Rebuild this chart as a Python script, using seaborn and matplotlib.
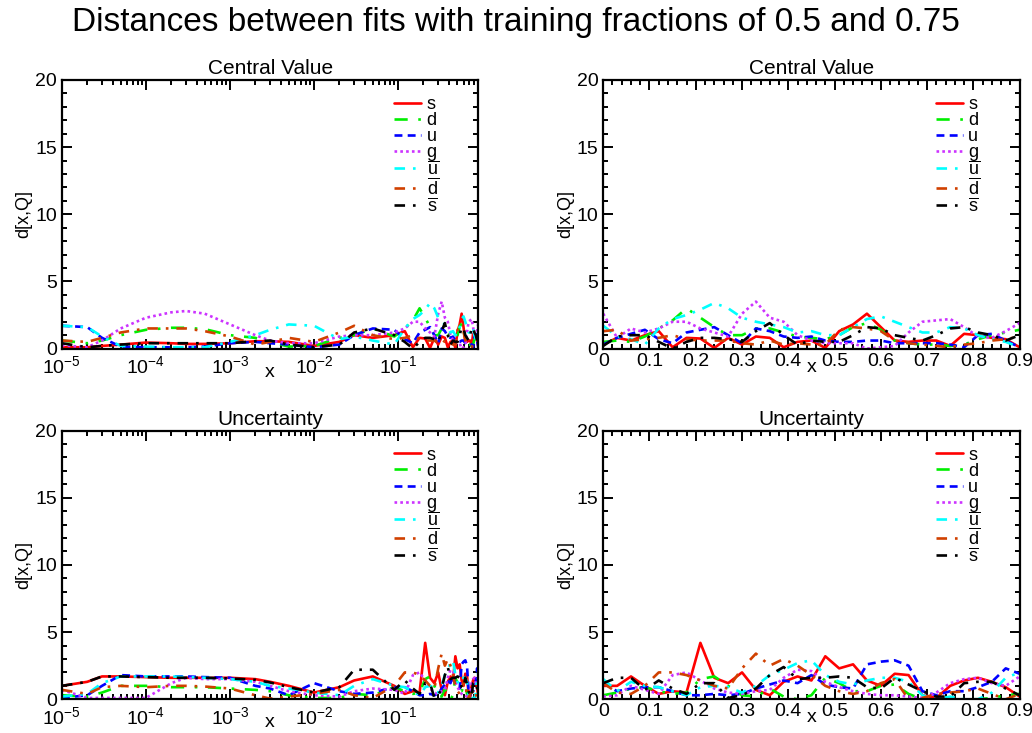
import matplotlib

matplotlib.use("Agg")
import matplotlib.pyplot as plt
import matplotlib.ticker as mticker
import seaborn as sns

# low-x grid for the log panels, continued by the linear grid from 0.09 on
X_LOG = [1e-5, 2e-5, 3e-5, 5e-5, 1e-4, 2e-4, 3e-4, 5e-4,
         1e-3, 2e-3, 3e-3, 5e-3, 1e-2, 2e-2, 3e-2, 5e-2]
X_LIN = [0.00, 0.03, 0.06, 0.09, 0.12, 0.15, 0.18, 0.21, 0.24, 0.27, 0.30,
         0.33, 0.36, 0.39, 0.42, 0.45, 0.48, 0.51, 0.54, 0.57, 0.60, 0.63,
         0.66, 0.69, 0.72, 0.75, 0.78, 0.81, 0.84, 0.87, 0.90]
LIN_START = 3  # index of 0.09 in X_LIN

FLAVOURS = ["s", "d", "u", "g", "ubar", "dbar", "sbar"]
LABELS = ["s", "d", "u", "g", r"$\overline{\mathrm{u}}$",
          r"$\overline{\mathrm{d}}$", r"$\overline{\mathrm{s}}$"]
COLORS = ["#ff0000", "#00ee00", "#0000ff", "#cc33ff", "#00ffff", "#d04000", "#000000"]
STYLES = ["-", (0, (5, 4, 1, 4)), (0, (3, 2)), (0, (1, 1.2)),
          (0, (4, 3, 1, 3)), (0, (4, 3, 1, 3)), (0, (4, 3, 1, 3))]

# Central value distances
CV_LOG = {
    "s":    [0.1, 0.1, 0.2, 0.3, 0.45, 0.4, 0.35, 0.35, 0.4, 0.55, 0.55, 0.5, 0.2, 0.5, 1.0, 0.8],
    "d":    [0.6, 0.4, 0.6, 1.0, 1.4, 1.55, 1.55, 1.45, 1.0, 0.8, 0.5, 0.15, 0.2, 0.8, 1.0, 1.5],
    "u":    [1.7, 1.6, 0.8, 0.15, 0.1, 0.1, 0.1, 0.15, 0.4, 0.5, 0.4, 0.3, 0.1, 0.3, 1.0, 1.5],
    "g":    [0.25, 0.1, 0.6, 1.5, 2.3, 2.7, 2.8, 2.6, 1.8, 1.0, 0.6, 0.4, 0.4, 0.9, 1.0, 1.0],
    "ubar": [1.7, 1.6, 0.9, 0.2, 0.15, 0.1, 0.1, 0.1, 0.5, 1.0, 1.4, 1.8, 1.7, 0.7, 0.9, 0.6],
    "dbar": [0.6, 0.5, 0.8, 1.2, 1.5, 1.5, 1.5, 1.3, 0.9, 0.3, 0.5, 0.8, 0.5, 1.2, 1.7, 1.0],
    "sbar": [0.4, 0.1, 0.2, 0.3, 0.4, 0.4, 0.4, 0.4, 0.4, 0.55, 0.6, 0.3, 0.1, 0.3, 1.2, 1.5],
}
CV_LIN = {
    "s":    [0.3, 0.8, 0.6, 1.0, 1.3, 0.1, 0.8, 0.75, 0.05, 0.8, 0.3, 0.9, 0.8, 0.1, 0.5, 0.6,
             0.05, 1.3, 1.8, 2.6, 1.6, 0.6, 0.5, 0.6, 0.6, 0.2, 1.1, 1.0, 0.8, 0.7, 0.1],
    "d":    [0.5, 0.6, 0.5, 0.9, 1.5, 2.1, 3.0, 2.3, 1.6, 1.0, 1.0, 1.5, 1.5, 1.2, 0.9, 0.8,
             0.7, 1.0, 1.6, 1.9, 1.4, 0.6, 0.4, 0.3, 0.3, 0.2, 0.3, 0.7, 1.0, 1.2, 1.4],
    "u":    [0.3, 0.8, 1.1, 1.4, 0.7, 0.4, 1.2, 1.4, 1.6, 1.0, 0.4, 1.5, 1.3, 0.9, 0.8, 0.9,
             0.6, 0.5, 0.5, 0.6, 0.6, 0.4, 0.4, 0.4, 0.4, 0.3, 0.1, 1.0, 1.1, 0.6, 0.1],
    "g":    [2.6, 0.8, 1.5, 1.2, 1.5, 2.0, 2.0, 1.5, 1.2, 0.9, 2.6, 3.5, 2.3, 2.0, 1.0, 0.6,
             0.4, 0.4, 0.4, 0.0, 0.1, 0.2, 1.2, 2.0, 2.1, 2.2, 1.6, 0.9, 0.8, 1.3, 1.9],
    "ubar": [1.7, 0.9, 0.7, 0.3, 1.5, 2.2, 2.5, 2.9, 3.4, 3.0, 2.3, 2.0, 1.8, 1.6, 1.2, 1.3,
             1.0, 1.0, 1.6, 2.2, 2.4, 2.0, 1.6, 1.2, 1.2, 1.6, 1.5, 1.0, 0.7, 0.5, 0.1],
    "dbar": [1.3, 1.4, 0.6, 0.7, 0.8, 1.0, 0.7, 0.6, 0.6, 0.6, 0.4, 0.3, 0.6, 0.3, 0.4, 0.3,
             0.3, 1.4, 1.6, 1.5, 1.3, 0.6, 0.4, 0.3, 0.2, 0.1, 0.3, 0.4, 0.6, 0.7, 0.9],
    "sbar": [0.2, 0.9, 1.0, 1.0, 0.5, 0.0, 0.5, 0.8, 0.8, 0.7, 0.5, 1.3, 1.9, 1.0, 0.3, 0.6,
             0.5, 0.5, 1.0, 1.6, 1.5, 1.0, 0.8, 0.6, 1.0, 1.5, 1.6, 1.2, 1.0, 0.6, 1.0],
}

# Uncertainty distances
UNC_LOG = {
    "s":    [1.0, 1.3, 1.7, 1.7, 1.65, 1.6, 1.6, 1.6, 1.6, 1.5, 1.3, 1.0, 0.5, 0.9, 1.4, 1.7],
    "d":    [0.3, 0.2, 0.5, 1.0, 1.0, 0.9, 0.9, 0.9, 0.8, 0.7, 0.6, 0.3, 0.1, 0.1, 0.4, 0.3],
    "u":    [0.1, 0.3, 1.0, 1.8, 1.7, 1.7, 1.7, 1.65, 1.6, 1.0, 0.8, 0.3, 1.2, 0.6, 0.4, 0.5],
    "g":    [0.7, 0.1, 0.1, 0.1, 0.1, 1.2, 1.6, 1.5, 1.5, 1.3, 1.0, 0.6, 0.3, 0.2, 0.6, 0.8],
    "ubar": [0.2, 0.4, 1.2, 1.7, 1.7, 1.7, 1.65, 1.6, 1.5, 1.3, 1.0, 0.8, 0.5, 0.3, 1.0, 1.5],
    "dbar": [0.7, 0.4, 0.9, 1.0, 0.9, 1.0, 1.0, 0.95, 0.8, 0.3, 0.05, 0.2, 0.4, 0.7, 0.3, 0.1],
    "sbar": [1.0, 1.3, 1.7, 1.7, 1.65, 1.6, 1.6, 1.6, 1.55, 1.45, 1.25, 0.9, 0.5, 0.9, 2.2, 2.2],
}
UNC_LIN = {
    "s":    [1.0, 1.0, 1.7, 1.0, 0.4, 0.6, 0.5, 4.2, 1.6, 1.2, 2.0, 0.7, 0.3, 1.3, 1.7, 1.4,
             3.2, 2.3, 2.6, 1.4, 1.0, 1.9, 1.8, 0.3, 0.1, 1.0, 1.4, 1.6, 1.3, 0.9, 0.2],
    "d":    [0.3, 0.5, 0.8, 0.9, 0.6, 0.4, 0.5, 1.5, 1.7, 1.0, 0.3, 0.2, 0.8, 0.2, 0.0, 0.3,
             1.6, 1.2, 0.6, 0.6, 1.0, 1.1, 0.4, 0.0, 0.0, 0.0, 0.0, 0.0, 0.1, 0.3, 0.4],
    "u":    [1.2, 0.6, 0.8, 0.9, 0.9, 0.6, 0.3, 0.3, 0.4, 0.3, 0.4, 0.8, 1.1, 1.4, 1.2, 1.8,
             1.1, 0.9, 0.8, 2.6, 2.8, 2.9, 2.5, 0.6, 0.3, 0.6, 0.6, 0.9, 1.3, 2.3, 1.9],
    "g":    [0.2, 0.3, 1.0, 0.7, 0.4, 1.8, 2.0, 1.4, 0.8, 0.5, 0.4, 0.6, 0.7, 1.6, 2.2, 2.1,
             1.3, 0.9, 0.6, 0.4, 0.3, 0.3, 0.2, 0.1, 0.5, 1.2, 1.5, 1.6, 1.2, 1.0, 1.7],
    "ubar": [1.5, 0.6, 1.3, 1.0, 0.9, 0.6, 0.3, 0.9, 1.0, 0.9, 0.5, 1.0, 1.8, 2.2, 2.7, 2.9,
             1.8, 1.3, 1.1, 1.4, 1.6, 1.6, 1.3, 0.3, 0.0, 0.2, 0.0, 0.0, 0.5, 1.6, 2.0],
    "dbar": [1.2, 0.5, 0.4, 1.0, 2.0, 2.0, 1.8, 1.4, 1.0, 0.8, 2.3, 3.4, 2.5, 3.0, 2.5, 1.8,
             1.0, 0.6, 0.4, 0.6, 1.2, 1.5, 0.0, 0.1, 0.4, 0.5, 0.6, 0.8, 0.4, 0.0, 0.4],
    "sbar": [1.2, 1.6, 1.6, 0.7, 1.4, 0.8, 0.4, 1.2, 1.2, 0.1, 0.3, 0.8, 1.8, 2.4, 1.5, 1.6,
             1.6, 1.7, 1.6, 0.9, 0.8, 1.6, 1.1, 0.6, 0.2, 0.2, 1.2, 1.3, 1.3, 0.8, 0.3],
}

ROWS = [("Central Value", CV_LOG, CV_LIN), ("Uncertainty", UNC_LOG, UNC_LIN)]

sns.set_theme(style="ticks")
plt.rcParams["font.family"] = ["Liberation Sans", "DejaVu Sans"]
plt.rcParams["mathtext.fontset"] = "custom"
plt.rcParams["mathtext.rm"] = "Liberation Sans"
plt.rcParams["mathtext.it"] = "Liberation Sans:italic"
plt.rcParams["mathtext.bf"] = "Liberation Sans:bold"
for key in ["text.color", "axes.labelcolor", "xtick.color", "ytick.color", "axes.edgecolor"]:
    plt.rcParams[key] = "black"

fig, axes = plt.subplots(2, 2, figsize=(10.32, 7.33), dpi=100)
fig.subplots_adjust(left=0.060, right=0.988, top=0.891, bottom=0.046,
                    wspace=0.30, hspace=0.305)

for row, (title, log_data, lin_data) in enumerate(ROWS):
    for col in range(2):
        ax = axes[row, col]
        for fl, lab, c, ls in zip(FLAVOURS, LABELS, COLORS, STYLES):
            if col == 0:
                xs = X_LOG + X_LIN[LIN_START:]
                ys = log_data[fl] + lin_data[fl][LIN_START:]
            else:
                xs = X_LIN
                ys = lin_data[fl]
            sns.lineplot(x=xs, y=ys, ax=ax, color=c, linestyle=ls,
                         linewidth=1.9, label=lab)

        if col == 0:
            ax.set_xscale("log")
            ax.set_xlim(1e-5, 0.9)
            ax.xaxis.set_major_locator(mticker.LogLocator(base=10, numticks=10))
            ax.xaxis.set_minor_locator(
                mticker.LogLocator(base=10, subs=range(2, 10), numticks=20))
            ax.xaxis.set_minor_formatter(mticker.NullFormatter())
            ax.tick_params(axis="x", pad=5)
            ax.set_xlabel("x", fontsize=14, labelpad=-10)
        else:
            ax.set_xlim(0, 0.9)
            ax.xaxis.set_major_locator(mticker.MultipleLocator(0.1))
            ax.xaxis.set_minor_locator(mticker.MultipleLocator(0.02))
            ax.xaxis.set_major_formatter(mticker.FuncFormatter(lambda v, _: f"{v:g}"))
            ax.tick_params(axis="x", pad=3)
            ax.set_xlabel("x", fontsize=14, labelpad=-8)

        ax.set_ylim(0, 20)
        ax.yaxis.set_major_locator(mticker.MultipleLocator(5))
        ax.yaxis.set_minor_locator(mticker.MultipleLocator(1))

        ax.set_title(title, fontsize=15, pad=4)
        ax.set_ylabel("d[x,Q]", fontsize=13, labelpad=2)
        ax.tick_params(which="both", direction="in", top=True, right=True,
                       labelsize=14, width=1.4)
        ax.tick_params(axis="y", pad=3.5)
        ax.tick_params(which="major", length=7)
        ax.tick_params(which="minor", length=3.5)
        for sp in ax.spines.values():
            sp.set_linewidth(1.6)
            sp.set_visible(True)

        ax.legend(loc="upper right", bbox_to_anchor=(0.905, 0.94), frameon=False,
                  fontsize=13, handlelength=1.5, handletextpad=0.3,
                  labelspacing=-0.05, borderpad=0, borderaxespad=0)

fig.suptitle("Distances between fits with training fractions of 0.5 and 0.75",
             fontsize=24, y=0.99)

fig.savefig("out.png", dpi=100)
